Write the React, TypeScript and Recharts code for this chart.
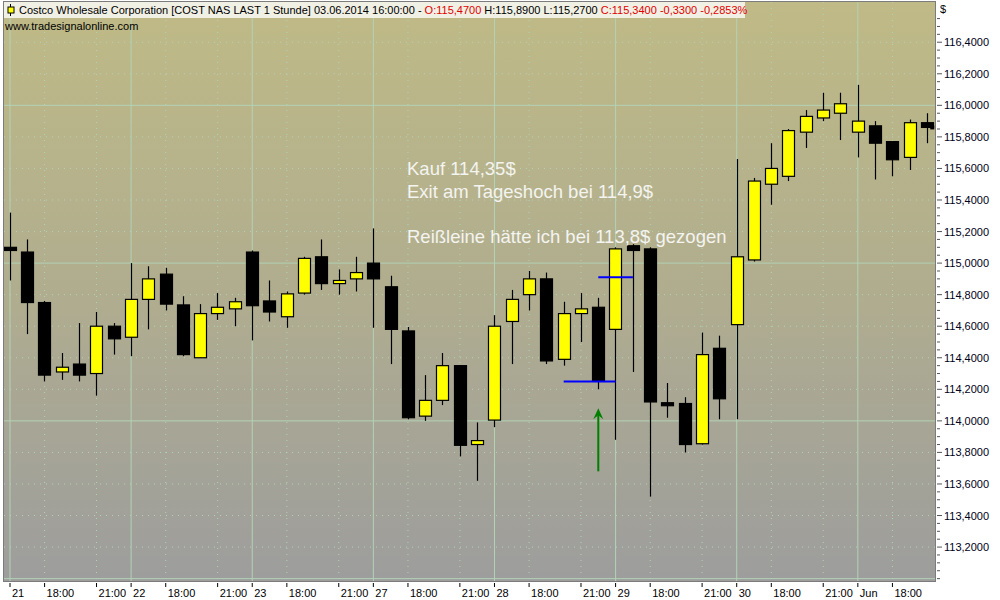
import React from 'react';
import { ComposedChart, Bar, XAxis, YAxis, ReferenceLine, ReferenceDot, CartesianGrid } from 'recharts';

// hourly candles COST, 21.05. - 02.06.2014
const opens = [
  115.10, 115.07, 114.75, 114.31, 114.36, 114.30, 114.60,
  114.53, 114.77, 114.93, 114.735, 114.40, 114.68, 114.71,
  115.07, 114.76, 114.66, 114.81, 115.04, 114.87, 114.90,
  115.00, 114.85, 114.57, 114.03, 114.13, 114.35, 113.85,
  114.005, 114.63, 114.80, 114.90, 114.39, 114.68, 114.72,
  114.58, 115.11, 115.09, 114.115, 114.11, 113.855, 114.46,
  114.61, 115.02, 115.50, 115.55, 115.83, 115.92, 115.95,
  115.83, 115.87, 115.77, 115.67, 115.89,
];
const highs = [
  115.32, 115.15, 114.76, 114.43, 114.62, 114.69, 114.62,
  115.00, 114.98, 114.97, 114.79, 114.74, 114.81, 114.78,
  115.08, 114.89, 114.82, 115.04, 115.15, 114.96, 115.04,
  115.22, 114.92, 114.595, 114.29, 114.43, 114.35, 113.99,
  114.67, 114.83, 114.95, 114.94, 114.755, 114.81, 114.78,
  115.10, 115.12, 115.10, 114.24, 114.15, 114.56, 114.54,
  115.66, 115.54, 115.76, 115.85, 115.97, 116.08, 116.08,
  116.13, 115.90, 115.77, 115.91, 115.95,
];
const lows = [
  114.89, 114.55, 114.25, 114.26, 114.25, 114.16, 114.42,
  114.41, 114.58, 114.70, 114.41, 114.40, 114.64, 114.60,
  114.51, 114.63, 114.59, 114.80, 114.83, 114.80, 114.82,
  114.59, 114.36, 114.01, 114.00, 114.10, 113.775, 113.62,
  113.96, 114.36, 114.70, 114.36, 114.35, 114.50, 114.20,
  113.88, 114.31, 113.52, 114.02, 113.80, 113.85, 114.01,
  114.01, 115.01, 115.37, 115.52, 115.73, 115.90, 115.78,
  115.67, 115.53, 115.55, 115.59, 115.76,
];
const closes = [
  115.08, 114.75, 114.29, 114.34, 114.29, 114.60, 114.52,
  114.77, 114.90, 114.74, 114.42, 114.68, 114.72, 114.755,
  114.73, 114.69, 114.805, 115.03, 114.87, 114.89, 114.94,
  114.90, 114.58, 114.02, 114.13, 114.35, 113.845, 113.875,
  114.60, 114.77, 114.90, 114.38, 114.68, 114.71, 114.25,
  115.09, 115.08, 114.12, 114.10, 113.85, 114.42, 114.14,
  115.04, 115.52, 115.60, 115.84, 115.93, 115.97, 116.01,
  115.90, 115.76, 115.655, 115.89, 115.86,
];

// x axis: bar index of each label
const xTickIdx = [0, 2, 5, 7, 9, 12, 14, 16, 19, 21, 23, 26, 28, 30, 33, 35, 37, 40, 42, 44, 47, 49, 51];
const xTickLabels = [
  '21', '18:00', '21:00', '22', '18:00', '21:00', '23', '18:00', '21:00', '27', '18:00', '21:00',
  '28', '18:00', '21:00', '29', '18:00', '21:00', '30', '18:00', '21:00', 'Jun', '18:00',
];
const dayStarts = [0, 7, 14, 21, 28, 35, 42, 49];

const yLabelTicks = [113.2, 113.4, 113.6, 113.8, 114.0, 114.2, 114.4, 114.6, 114.8, 115.0, 115.2, 115.4, 115.6, 115.8, 116.0, 116.2, 116.4];
const ySolid = [113, 114, 115, 116];

// trade marks
const buyLevel = 114.25;
const exitLevel = 114.91;
const arrowFrom = 113.68;
const arrowTo = 114.08;

const rows = opens.map((o, i) => ({
  i,
  o,
  h: highs[i],
  l: lows[i],
  c: closes[i],
  range: [lows[i], highs[i]],
}));

const yMinor: number[] = [];
for (let k = 0; k <= 72; k++) {
  const v = Math.round((113 + k * 0.05) * 100) / 100;
  if (v <= 116.55) yMinor.push(v);
}
const isLabel = (v: number) => yLabelTicks.some(t => Math.abs(t - v) < 0.001);
const yDotted = yLabelTicks.filter(v => !ySolid.some(s => Math.abs(s - v) < 0.001));
const xDotted = xTickIdx.filter(i => !dayStarts.includes(i));

const gridColor = '#b3d2b6';
const font = '"Liberation Sans", Arial, sans-serif';

function Candle(props: any) {
  const { x, y, width, height, payload } = props;
  const { o, h, l, c } = payload;
  const top = Math.min(y, y + height);
  const ht = Math.abs(height);
  const py = (v: number) => (h === l ? top : top + ((h - v) / (h - l)) * ht);
  const cx = Math.round(x + width / 2) + 0.5;
  const up = c >= o;
  const bTop = py(Math.max(o, c));
  const bBot = py(Math.min(o, c));
  return (
    <g>
      <line x1={cx} x2={cx} y1={top} y2={top + ht} stroke="#000" strokeWidth={1.2} />
      <rect
        x={cx - 6}
        y={bTop}
        width={12}
        height={Math.max(bBot - bTop, 3)}
        fill={up ? '#ffff00' : '#000'}
        stroke="#000"
        strokeWidth={1.2}
      />
    </g>
  );
}

function XTick(props: any) {
  const { x, y, payload } = props;
  const k = xTickIdx.indexOf(payload.value);
  return (
    <g>
      <line x1={x} x2={x} y1={y + 2} y2={y + 6} stroke="#000" />
      <text x={x + 2} y={y + 16} fontSize={11} fontFamily={font} fill="#000" textAnchor="start">
        {k >= 0 ? xTickLabels[k] : ''}
      </text>
    </g>
  );
}

function YTick(props: any) {
  const { x, y, payload } = props;
  const major = isLabel(payload.value);
  return (
    <g>
      <line x1={x + 2} x2={x + (major ? 7 : 5)} y1={y} y2={y} stroke="#555" />
      {major && (
        <text x={x + 9} y={y + 4} fontSize={11} fontFamily={font} fill="#000018" textAnchor="start">
          {payload.value.toFixed(4).replace('.', ',')}
        </text>
      )}
    </g>
  );
}

const arrowHead = (p: any) => (
  <path
    d={`M${p.cx},${p.cy} L${p.cx + 5},${p.cy + 11} L${p.cx},${p.cy + 7} L${p.cx - 5},${p.cy + 11} Z`}
    fill="#008000"
  />
);

const lastMark = (p: any) => <rect x={p.cx - 2} y={p.cy - 2} width={4} height={4} fill="#000" />;

export default function App() {
  return (
    <div style={{ position: 'fixed', left: 0, top: 0, width: 1000, height: 600, background: '#fff' }}>
      <div
        style={{
          position: 'absolute',
          left: 3,
          top: 1,
          width: 931,
          height: 579,
          border: '1px solid #7c7c7c',
          background: 'linear-gradient(#bfba86 0%, #b0ad8f 50%, #9d9d9d 100%)',
        }}
      />
      <div style={{ position: 'absolute', left: 0, top: 0 }}>
        <ComposedChart width={1000} height={600} data={rows} margin={{ top: 2, right: 0, bottom: 0, left: 4 }}>
          <CartesianGrid
            horizontalValues={yDotted}
            verticalValues={xDotted}
            stroke={gridColor}
            strokeDasharray="1 5"
            fill="none"
          />
          <CartesianGrid horizontalValues={ySolid} verticalValues={dayStarts} stroke={gridColor} fill="none" />
          <XAxis
            type="number"
            dataKey="i"
            domain={[-0.347, 53.46]}
            allowDataOverflow
            ticks={xTickIdx}
            interval={0}
            tick={<XTick />}
            tickLine={false}
            axisLine={false}
            tickSize={0}
            tickMargin={0}
            height={19}
          />
          <YAxis
            orientation="right"
            domain={[112.985, 116.655]}
            allowDataOverflow
            ticks={yMinor}
            interval={0}
            tick={<YTick />}
            tickLine={false}
            axisLine={false}
            tickSize={0}
            tickMargin={0}
            width={65}
          />
          <Bar dataKey="range" barSize={13} shape={Candle} isAnimationActive={false} />
          <ReferenceLine
            segment={[{ x: 32, y: buyLevel }, { x: 35, y: buyLevel }]}
            stroke="#0000ff"
            strokeWidth={2}
          />
          <ReferenceLine
            segment={[{ x: 34, y: exitLevel }, { x: 36, y: exitLevel }]}
            stroke="#0000ff"
            strokeWidth={2}
          />
          <ReferenceLine
            segment={[{ x: 34, y: arrowFrom }, { x: 34, y: arrowTo - 0.03 }]}
            stroke="#008000"
            strokeWidth={2}
          />
          <ReferenceDot x={34} y={arrowTo} shape={arrowHead} />
          <ReferenceDot x={53.3} y={closes[closes.length - 1]} shape={lastMark} />
        </ComposedChart>
      </div>
      <svg width={1000} height={600} style={{ position: 'absolute', left: 0, top: 0, pointerEvents: 'none' }}>
        <rect x={4} y={2} width={741} height={16} fill="#f1f0e5" />
        <line x1={10.5} x2={10.5} y1={4} y2={16} stroke="#000" />
        <rect x={8} y={7} width={6} height={6} fill="#ffff00" stroke="#000" />
        <text x={19} y={14} fontSize={11} fontFamily={font}>
          <tspan fill="#000">Costco Wholesale Corporation [COST NAS LAST 1 Stunde] 03.06.2014 16:00:00 - </tspan>
          <tspan fill="#e00000">O:115,4700</tspan>
          <tspan fill="#000"> H:115,8900 L:115,2700 </tspan>
          <tspan fill="#e00000">C:115,3400 -0,3300 -0,2853%</tspan>
        </text>
        <text x={5} y={30} fontSize={11} fontFamily={font} fill="#000">www.tradesignalonline.com</text>
        <text x={940} y={13} fontSize={11} fontFamily={font} fill="#000">$</text>
        <g fontSize={18.5} fontFamily={font} fill="#f4f4f0">
          <text x={407} y={175}>Kauf 114,35$</text>
          <text x={407} y={198}>Exit am Tageshoch bei 114,9$</text>
          <text x={407} y={243}>Reißleine hätte ich bei 113,8$ gezogen</text>
        </g>
      </svg>
    </div>
  );
}
